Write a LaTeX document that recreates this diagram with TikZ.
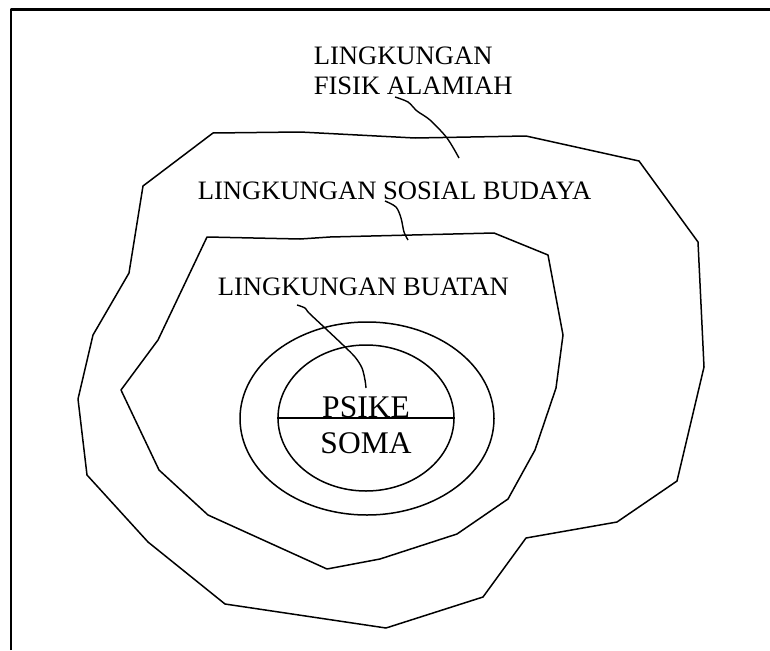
\documentclass[tikz,border=0pt]{standalone}
\usepackage{fontspec}
\setmainfont{Liberation Serif}
\usetikzlibrary{shapes.geometric}
\begin{document}
\begin{tikzpicture}[x=1pt,y=-1pt, line width=1.5pt, line join=round,
  lbl/.style={anchor=base west, inner sep=0pt, font=\fontsize{26.6}{30}\selectfont},
  big/.style={anchor=base, inner sep=0pt, font=\fontsize{31.5}{34}\selectfont},
  ring/.style={draw, ellipse, inner sep=0pt},
  leader/.style={line width=1.4pt}]
\useasboundingbox (0,0) rectangle (770,650);
% frame
\draw[line width=2.2pt] (11,650) -- (11,9.5) -- (772,9.5);
% outer region: lingkungan fisik alamiah
\draw (213,133) -- (300,132) -- (415,138) -- (526,136) -- (639,161) -- (698,242)
  -- (704,367) -- (677,481) -- (617,522) -- (526,538) -- (483,597) -- (386,628)
  -- (225,604) -- (148,542) -- (87,475) -- (78,399) -- (93,335) -- (129,273)
  -- (143,186) -- cycle;
% middle region: lingkungan sosial budaya
\draw (207,237) -- (300,239) -- (330,237) -- (494,233) -- (548,255) -- (563,335)
  -- (556,388) -- (535,450) -- (508,499) -- (457,534) -- (380,559) -- (327,569)
  -- (208,515) -- (159,470) -- (121,390) -- (158,340) -- cycle;
% ellipses
\node[ring, minimum width=254pt, minimum height=193pt] (outerring) at (367,418.5) {};
\node[ring, minimum width=176pt, minimum height=146pt] (innerring) at (366,418) {};
\draw (innerring.west) -- (innerring.east);
% texts
\node[big] (psike) at (366,417) {PSIKE};
\node[big] (soma) at (366,453) {SOMA};
\node[lbl] (fisika) at (313,65) {LINGKUNGAN};
\node[lbl] (fisikb) at (313,95) {FISIK ALAMIAH};
\node[lbl] (sosial) at (197,199) {LINGKUNGAN SOSIAL BUDAYA};
\node[lbl] (buatan) at (217,295) {LINGKUNGAN BUATAN};
% leaders
\coordinate (fs) at (395,97);
\coordinate (fe) at (459,158);
\coordinate (ss) at (385,201);
\coordinate (se) at (408,240);
\coordinate (bs) at (297,305);
\coordinate (be) at (366,388);
\draw[leader] plot[smooth, tension=0.5] coordinates {(fs) (408,102) (417,111) (430,120) (447,138) (fe)};
\draw[leader] plot[smooth, tension=0.5] coordinates {(ss) (396,207) (401,218) (404,232) (se)};
\draw[leader] plot[smooth, tension=0.5] coordinates {(bs) (305,308) (309,313) (325,328) (343,345) (355,357) (362,368) (365,380) (be)};
\end{tikzpicture}
\end{document}
